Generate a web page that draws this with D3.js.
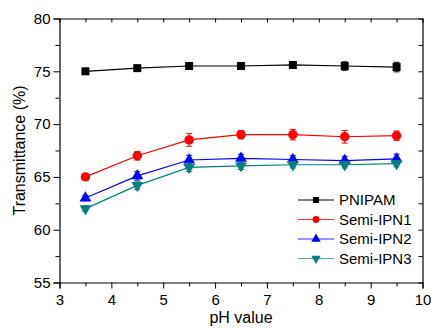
<!DOCTYPE html>
<html>
<head>
<meta charset="utf-8">
<script src="https://cdn.jsdelivr.net/npm/d3@7"></script>
<style>
html,body{margin:0;padding:0;background:#fff;}
svg{display:block;font-family:"Liberation Sans",Arial,sans-serif;}
</style>
</head>
<body>
<svg id="chart" width="431" height="331"></svg>
<script>
const phValues = [3.5, 4.5, 5.5, 6.5, 7.5, 8.5, 9.5];
const seriesNames = ["PNIPAM", "Semi-IPN1", "Semi-IPN2", "Semi-IPN3"];
const seriesColors = ["#000000", "#ff0000", "#0000ff", "#008080"];
const seriesSymbols = ["square", "circle", "triangle", "triangleDown"];
const pnipam = [75.0, 75.3, 75.5, 75.5, 75.6, 75.5, 75.4];
const semiIPN1 = [65.0, 67.0, 68.5, 69.0, 69.0, 68.8, 68.9];
const semiIPN2 = [63.0, 65.1, 66.6, 66.75, 66.65, 66.55, 66.7];
const semiIPN3 = [62.0, 64.2, 65.9, 66.05, 66.15, 66.15, 66.25];
const errPnipam = [0.2, 0.2, 0.25, 0.2, 0.2, 0.4, 0.45];
const errIPN1 = [0.15, 0.4, 0.6, 0.4, 0.5, 0.6, 0.45];
const errIPN2 = [0.25, 0.4, 0.45, 0.4, 0.35, 0.4, 0.45];
const errIPN3 = [0.25, 0.4, 0.4, 0.35, 0.3, 0.3, 0.3];
const xTicks = [3, 4, 5, 6, 7, 8, 9, 10];
const yTicks = [55, 60, 65, 70, 75, 80];
const xTitle = "pH value";
const yTitle = "Transmittance (%)";

const seriesValues = [pnipam, semiIPN1, semiIPN2, semiIPN3];
const seriesErrors = [errPnipam, errIPN1, errIPN2, errIPN3];

const svg = d3.select("#chart");
const L = 59.5, R = 422.5, T = 18.5, B = 282.5;
const x = d3.scaleLinear().domain([3, 10]).range([L, R]);
const y = d3.scaleLinear().domain([55, 80]).range([B, T]);

const minorX = d3.range(3, 10.001, 0.5);
const minorY = d3.range(55, 80.001, 2.5);

// Axes
const gx = svg.append("g").attr("transform", `translate(0,${B})`)
  .call(d3.axisBottom(x).tickValues(minorX).tickSize(6).tickFormat(d => xTicks.includes(d) ? d : ""));
const gy = svg.append("g").attr("transform", `translate(${L},0)`)
  .call(d3.axisLeft(y).tickValues(minorY).tickSize(6).tickFormat(d => yTicks.includes(d) ? d : ""));
gx.selectAll(".tick line").attr("y2", d => Number.isInteger(d) ? 6 : 4);
gy.selectAll(".tick line").attr("x2", d => d % 5 === 0 ? -6 : -4);
const gt = svg.append("g").attr("transform", `translate(0,${T})`)
  .call(d3.axisTop(x).tickValues(minorX).tickSize(-4).tickFormat(""));
const gr = svg.append("g").attr("transform", `translate(${R},0)`)
  .call(d3.axisRight(y).tickValues(minorY).tickSize(-4).tickFormat(""));
[gx, gy, gt, gr].forEach(g => {
  g.select(".domain").attr("stroke", "#000").attr("stroke-width", 1.2);
  g.selectAll(".tick line").attr("stroke", "#000").attr("stroke-width", 1);
  g.selectAll(".tick text").attr("fill", "#000").style("font-size", "15px").style("font-family", '"Liberation Sans",Arial,sans-serif');
});
gt.selectAll(".tick").filter(d => d === 3 || d === 10).remove();
gr.selectAll(".tick").filter(d => d === 55 || d === 80).remove();
gx.selectAll(".tick text").attr("dy", "0.75em").attr("y", 11);
gy.selectAll(".tick text").attr("x", -9);

// Titles
svg.append("text").attr("x", (L + R) / 2).attr("y", 323).attr("text-anchor", "middle")
  .style("font-size", "16px").text(xTitle);
svg.append("text").attr("transform", `translate(25,${(T + B) / 2}) rotate(-90)`).attr("text-anchor", "middle")
  .style("font-size", "16px").text(yTitle);

function symbolPath(kind, size) {
  const map = {square: d3.symbolSquare, circle: d3.symbolCircle, triangle: d3.symbolTriangle, triangleDown: d3.symbolTriangle};
  return d3.symbol().type(map[kind]).size(size)();
}
const markerSizes = {square: 64, circle: 70, triangle: 60, triangleDown: 60};

const line = d3.line().x((d, i) => x(phValues[i])).y(d => y(d));
seriesValues.forEach((vals, s) => {
  const g = svg.append("g");
  const c = seriesColors[s];
  g.append("path").attr("d", line(vals)).attr("fill", "none").attr("stroke", c).attr("stroke-width", 1.2);
  vals.forEach((v, i) => {
    const e = seriesErrors[s][i];
    const cx = x(phValues[i]);
    const y1 = y(v + e), y2 = y(v - e);
    g.append("line").attr("x1", cx).attr("x2", cx).attr("y1", y1).attr("y2", y2).attr("stroke", c).attr("stroke-width", 1);
    g.append("line").attr("x1", cx - 3).attr("x2", cx + 3).attr("y1", y1).attr("y2", y1).attr("stroke", c).attr("stroke-width", 1);
    g.append("line").attr("x1", cx - 3).attr("x2", cx + 3).attr("y1", y2).attr("y2", y2).attr("stroke", c).attr("stroke-width", 1);
    const k = seriesSymbols[s];
    g.append("path").attr("d", symbolPath(k, markerSizes[k]))
      .attr("transform", `translate(${cx},${y(v)})` + (k === "triangleDown" ? " rotate(180)" : ""))
      .attr("fill", c);
  });
});

// Legend
const legY = [200, 219.5, 239, 258.5];
const legLineColors = ["#000000", "#ff3333", "#3333ff", "#4aa5a5"];
seriesNames.forEach((name, s) => {
  const g = svg.append("g").attr("transform", `translate(0,${legY[s]})`);
  g.append("line").attr("x1", 298).attr("x2", 334).attr("y1", 0).attr("y2", 0)
    .attr("stroke", legLineColors[s]).attr("stroke-width", 1.2);
  const k = seriesSymbols[s];
  g.append("path").attr("d", symbolPath(k, 38))
    .attr("transform", `translate(316,0)` + (k === "triangleDown" ? " rotate(180)" : ""))
    .attr("fill", seriesColors[s]);
  g.append("text").attr("x", 339).attr("y", 0).attr("dy", "0.36em").style("font-size", "15px").text(name);
});
</script>
</body>
</html>
